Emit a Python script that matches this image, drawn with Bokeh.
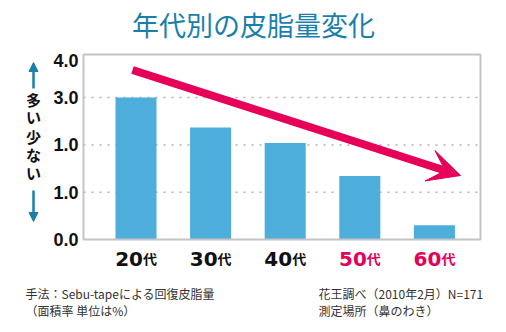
from bokeh.plotting import figure
from bokeh.models import Range1d, Arrow, VeeHead, NormalHead
from bokeh.core.properties import value
from bokeh.embed import file_html
from bokeh.resources import INLINE
import numpy as np

# ---- data ----
title_text = "年代別の皮脂量変化"
categories = ["20", "30", "40", "50", "60"]
cat_suffix = "代"
values = [3.0, 2.37, 2.04, 1.34, 0.30]
label_colors = ["#111111", "#111111", "#111111", "#e4005a", "#e4005a"]
ytick_values = [0, 1, 2, 3, 3.78]
ytick_labels = ["0.0", "1.0", "1.0", "3.0", "4.0"]
grid_values = [1, 2, 3]
side_top = ["多", "い"]
side_bottom = ["少", "な", "い"]
note_left = ["手法：Sebu-tapeによる回復皮脂量", "（面積率 単位は%）"]
note_right = ["花王調べ（2010年2月）N=171", "測定場所（鼻のわき）"]

BAR = "#4daedb"
PINK = "#e6005a"
TEAL = "#1a7fab"
JP = "Noto Sans CJK JP"

W, H = 506, 332


# canvas pixel -> data helpers (bars: 74.6 px per category, 47.3 px per unit)
def dx(px):
    return (px - 135.5) / 74.6


def dy(py):
    return (239 - py) / 47.3


# plot area bounds in data units
frame_left, frame_right = dx(83), dx(480)
frame_bottom, frame_top = 0, dy(54)

x = np.arange(len(categories))

p = figure(width=W, height=H, output_backend="svg", toolbar_location=None,
           x_range=Range1d(dx(0), dx(W)), y_range=Range1d(dy(H), dy(0)),
           x_axis_location=None, y_axis_location=None, min_border=0)
p.background_fill_color = "white"
p.border_fill_color = "white"
p.outline_line_color = None
p.grid.visible = False

# dotted grid lines
p.segment(x0=[frame_left] * len(grid_values), x1=[frame_right] * len(grid_values),
          y0=grid_values, y1=grid_values, line_color="#b0b0b0", line_width=1.5,
          line_dash="2 6")

# bars
p.vbar(x=x, top=values, width=0.55, fill_color=BAR, line_color=None)

# plot frame
p.quad(left=[frame_left], right=[frame_right], bottom=[frame_bottom], top=[frame_top],
       fill_color=None, line_color="#c4c4c4", line_width=2)

# y tick labels
p.text(x=[dx(78)] * len(ytick_values), y=ytick_values, text=ytick_labels,
       text_align="right", text_baseline="middle",
       text_font=value("Liberation Sans"), text_font_style="bold",
       text_font_size="18px", text_color="#111111")

# title
p.text(x=[dx(253)], y=[dy(24)], text=[title_text], text_align="center",
       text_baseline="middle", text_font=value(JP), text_font_size="27px",
       text_color=TEAL)

# category labels
p.text(x=x, y=[dy(258)] * len(x), x_offset=7, text=categories, text_align="right",
       text_baseline="middle", text_font=value("DejaVu Sans"),
       text_font_style="bold", text_font_size="20px", text_color=label_colors)
p.text(x=x, y=[dy(257)] * len(x), x_offset=7, text=[cat_suffix] * len(x),
       text_align="left", text_baseline="middle", text_font=value(JP),
       text_font_style="bold", text_font_size="14px", text_color=label_colors)

# side labels
p.text(x=[dx(33)] * len(side_top), y=[dy(99), dy(116)], text=side_top,
       text_align="center", text_baseline="middle", text_font=value(JP),
       text_font_style="bold", text_font_size="15px", text_color="#111111")
p.text(x=[dx(33)] * len(side_bottom), y=[dy(136), dy(154), dy(172)], text=side_bottom,
       text_align="center", text_baseline="middle", text_font=value(JP),
       text_font_style="bold", text_font_size="15px", text_color="#111111")
p.add_layout(Arrow(x_start=dx(33), y_start=dy(88), x_end=dx(33), y_end=dy(62),
                   line_color=TEAL, line_width=2.5,
                   end=NormalHead(size=9, fill_color=TEAL, line_color=TEAL)))
p.add_layout(Arrow(x_start=dx(33), y_start=dy(190), x_end=dx(33), y_end=dy(221),
                   line_color=TEAL, line_width=2.5,
                   end=NormalHead(size=9, fill_color=TEAL, line_color=TEAL)))

# trend arrow
p.add_layout(Arrow(x_start=dx(132), y_start=dy(69.5), x_end=dx(460), y_end=dy(175),
                   line_color=PINK, line_width=8,
                   end=VeeHead(size=32, fill_color=PINK, line_color=PINK)))

# notes
p.text(x=[dx(25)] * 2, y=[dy(293), dy(310)], text=note_left, text_align="left",
       text_baseline="middle", text_font=value(JP), text_font_size="12px",
       text_color="#333333")
p.text(x=[dx(318)] * 2, y=[dy(293), dy(310)], text=note_right, text_align="left",
       text_baseline="middle", text_font=value(JP), text_font_size="12px",
       text_color="#333333")

open("out.html", "w").write(file_html(p, INLINE))
